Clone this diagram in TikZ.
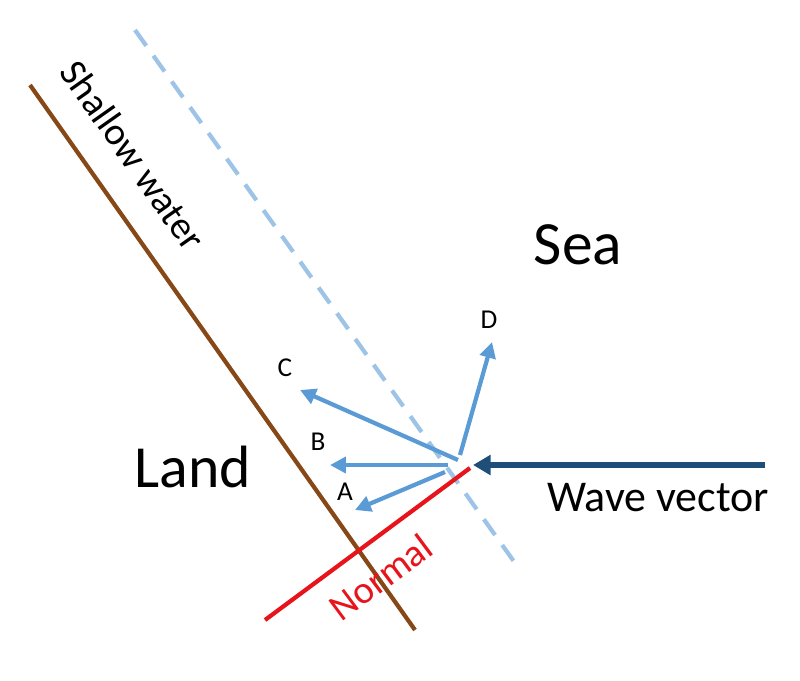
\documentclass[tikz,border=0pt]{standalone}
\usepackage{fontspec}
\setmainfont{Carlito}
\usetikzlibrary{arrows.meta}
\definecolor{brn}{RGB}{133,72,22}
\definecolor{lblue}{RGB}{157,195,230}
\definecolor{mblue}{RGB}{91,155,213}
\definecolor{dblue}{RGB}{31,78,121}
\definecolor{nred}{RGB}{232,20,28}
\tikzset{vec/.style={mblue,line width=2.4pt,-{Triangle[length=9pt,width=9pt]}},
lbl/.style={font=\fontsize{15.5pt}{18pt}\selectfont}}
\begin{document}
\begin{tikzpicture}[x=0.02cm,y=-0.02cm]
\useasboundingbox (0,0) rectangle (800,680);
\coordinate (b1) at (30,85); \coordinate (b2) at (415,630);
\coordinate (d1) at (135,30); \coordinate (d2) at (520,570);
\coordinate (r1) at (265,620); \coordinate (r2) at (470,468);
\coordinate (w1) at (765,465); \coordinate (w2) at (473,465);
\draw[brn,line width=2.4pt] (b1) -- (b2);
\draw[lblue,line width=2.4pt,dash pattern=on 11pt off 7pt] (d1) -- (d2);
\draw[nred,line width=2.4pt] (r1) -- (r2);
\draw[dblue,line width=3pt,-{Triangle[length=10pt,width=11pt]}] (w1) -- (w2);
\coordinate (a0) at (445,472); \coordinate (a1) at (355,510);
\coordinate (bb0) at (448,465); \coordinate (bb1) at (330,465);
\coordinate (c0) at (458,460); \coordinate (c1) at (300,390);
\coordinate (dd0) at (460,455); \coordinate (dd1) at (492,342);
\draw[vec] (a0) -- (a1);
\draw[vec] (bb0) -- (bb1);
\draw[vec] (c0) -- (c1);
\draw[vec] (dd0) -- (dd1);
\node[lbl] (la) at (345,492) {A};
\node[lbl] (lb) at (318,442) {B};
\node[lbl] (lc) at (285,368) {C};
\node[lbl] (ld) at (489,320) {D};
\node[font=\fontsize{35pt}{40pt}\selectfont] (sea) at (578,245) {Sea};
\node[font=\fontsize{34pt}{40pt}\selectfont] (land) at (193,467) {Land};
\node[font=\fontsize{25pt}{30pt}\selectfont] (wv) at (658,498) {Wave vector};
\node[font=\fontsize{22pt}{26pt}\selectfont,rotate=-54.8] (sw) at (133,155) {Shallow water};
\node[font=\fontsize{22pt}{26pt}\selectfont,rotate=36.6,text=nred] (nm) at (381,577) {Normal};
\end{tikzpicture}
\end{document}
